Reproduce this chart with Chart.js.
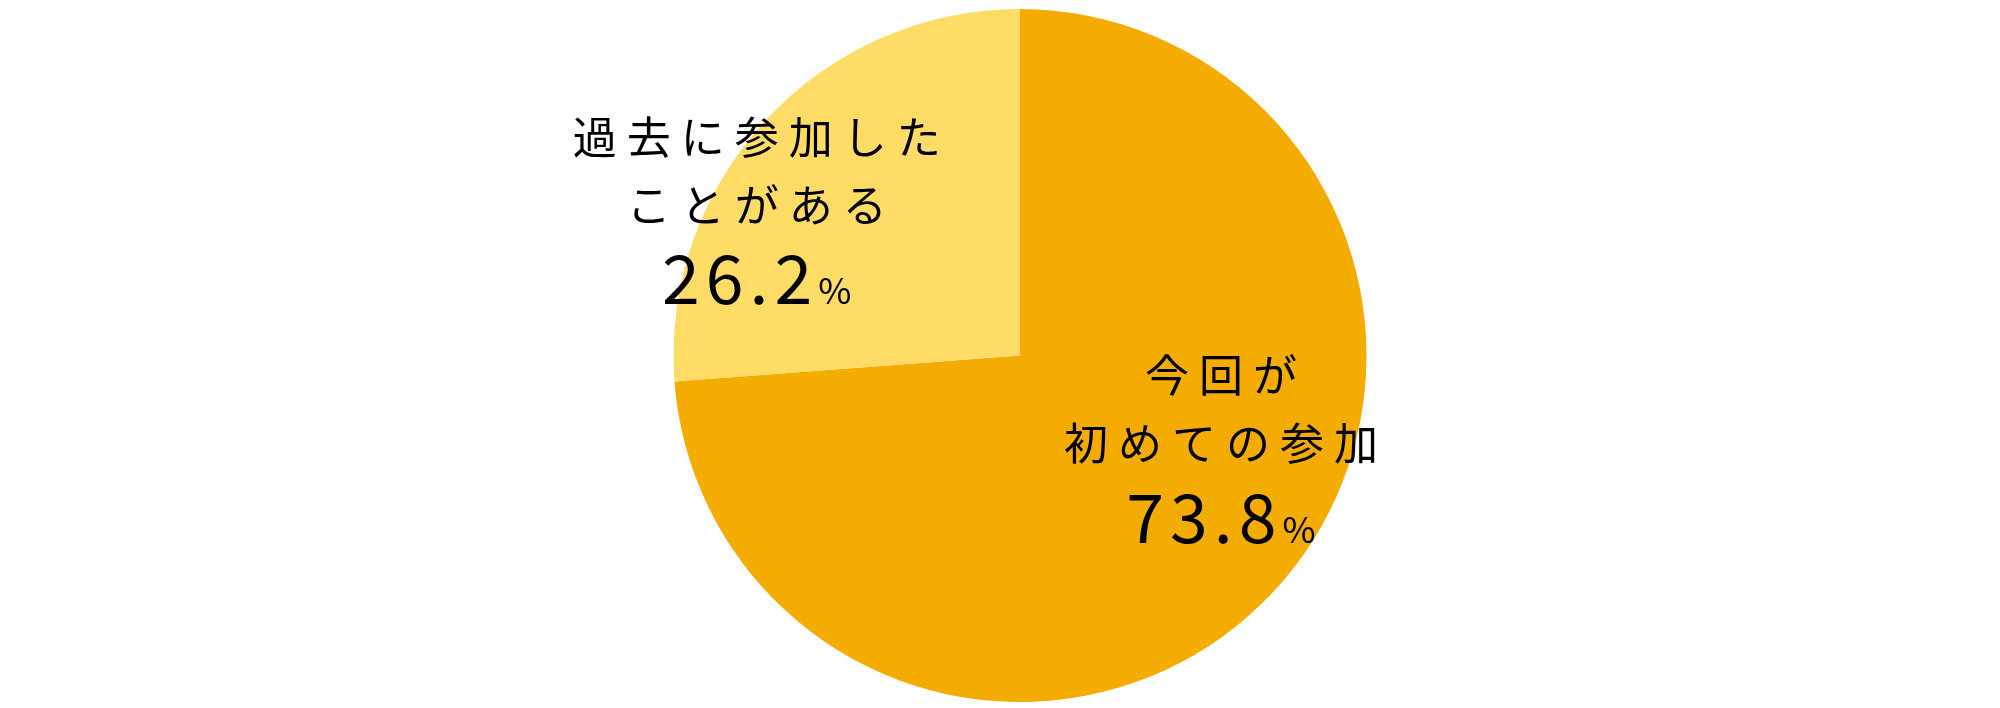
<!DOCTYPE html>
<html>
<head>
<meta charset="utf-8">
<script src="https://cdn.jsdelivr.net/npm/chart.js@4"></script>
<style>
  html, body { margin: 0; padding: 0; background: #fff; }
  #wrap { width: 2000px; height: 708px; }
</style>
</head>
<body>
<div id="wrap"><canvas id="pieChart" width="2000" height="708"></canvas></div>
<script>
// データ
const categories = [['今回が', '初めての参加'], ['過去に参加した', 'ことがある']];
const shares = [73.8, 26.2];
const sliceColors = ['#F5AC00', '#FFDC66'];

// ラベルの位置（半径に対する比率）
const labelOffsets = [[0.58, 0.254], [-0.76, -0.433]];

const labelPlugin = {
    id: 'sliceLabels',
    afterDatasetsDraw(chart) {
        const ctx = chart.ctx;
        const meta = chart.getDatasetMeta(0);
        meta.data.forEach((arc, i) => {
            const r = arc.outerRadius;
            const cx = arc.x + labelOffsets[i][0] * r;
            const cy = arc.y + labelOffsets[i][1] * r;
            ctx.save();
            ctx.fillStyle = '#000';
            ctx.textBaseline = 'middle';
            ctx.textAlign = 'center';
            ctx.font = '400 44px "Noto Sans CJK JP"';
            ctx.letterSpacing = '10px';
            const lines = categories[i];
            ctx.fillText(lines[0], cx + 5, cy - 68);
            ctx.fillText(lines[1], cx + 5, cy);

            // 数値 + 小さい%
            ctx.textAlign = 'left';
            ctx.letterSpacing = '6px';
            ctx.font = '400 68px "Noto Sans CJK JP"';
            const num = shares[i].toFixed(1);
            const wNum = ctx.measureText(num).width;
            ctx.font = '400 36px "Noto Sans CJK JP"';
            ctx.letterSpacing = '0px';
            const wPct = ctx.measureText('%').width;
            const x0 = cx - (wNum + wPct) / 2;
            ctx.font = '400 68px "Noto Sans CJK JP"';
            ctx.letterSpacing = '6px';
            ctx.textBaseline = 'alphabetic';
            ctx.fillText(num, x0, cy + 74 + 25);
            ctx.font = '400 36px "Noto Sans CJK JP"';
            ctx.letterSpacing = '0px';
            ctx.fillText('%', x0 + wNum, cy + 74 + 25);
            ctx.restore();
        });
    }
};

new Chart(document.getElementById('pieChart').getContext('2d'), {
    type: 'pie',
    data: {
        labels: categories.map(c => c.join('')),
        datasets: [{
            data: shares,
            backgroundColor: sliceColors,
            borderWidth: 0
        }]
    },
    options: {
        responsive: false,
        animation: false,
        layout: { padding: { top: 9, bottom: 6, left: 40, right: 0 } },
        plugins: {
            legend: { display: false },
            tooltip: { enabled: false }
        }
    },
    plugins: [labelPlugin]
});
</script>
</body>
</html>
